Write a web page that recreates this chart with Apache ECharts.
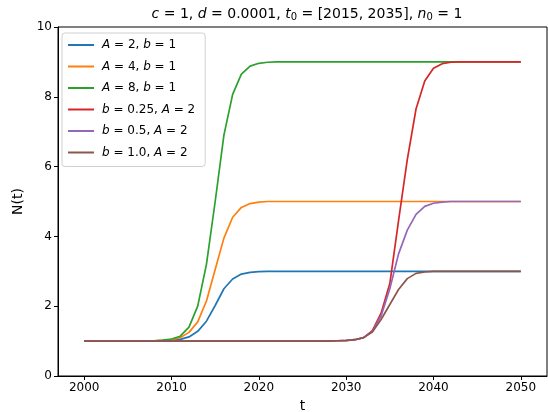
<!DOCTYPE html>
<html>
<head>
<meta charset="utf-8">
<script src="https://cdn.jsdelivr.net/npm/echarts@6/dist/echarts.min.js"></script>
<style>
  html, body { margin: 0; padding: 0; background: #fff; }
  #chart { width: 548px; height: 412px; }
</style>
</head>
<body>
<div id="chart"></div>
<script>
const years = [
  2000, 2001, 2002, 2003, 2004, 2005, 2006, 2007, 2008, 2009,
  2010, 2011, 2012, 2013, 2014, 2015, 2016, 2017, 2018, 2019,
  2020, 2021, 2022, 2023, 2024, 2025, 2026, 2027, 2028, 2029,
  2030, 2031, 2032, 2033, 2034, 2035, 2036, 2037, 2038, 2039,
  2040, 2041, 2042, 2043, 2044, 2045, 2046, 2047, 2048, 2049,
  2050,
]

const a2b1 = [
  1, 1, 1, 1, 1, 1, 1, 1, 1, 1,
  1.02, 1.05, 1.12, 1.28, 1.57, 2.02, 2.5, 2.78, 2.92, 2.97,
  2.99, 3, 3, 3, 3, 3, 3, 3, 3, 3,
  3, 3, 3, 3, 3, 3, 3, 3, 3, 3,
  3, 3, 3, 3, 3, 3, 3, 3, 3, 3,
  3,
]
const a4b1 = [
  1, 1, 1, 1, 1, 1, 1, 1, 1.01, 1.02,
  1.04, 1.1, 1.25, 1.55, 2.15, 3.05, 3.95, 4.55, 4.83, 4.94,
  4.98, 5, 5, 5, 5, 5, 5, 5, 5, 5,
  5, 5, 5, 5, 5, 5, 5, 5, 5, 5,
  5, 5, 5, 5, 5, 5, 5, 5, 5, 5,
  5,
]
const a8b1 = [
  1, 1, 1, 1, 1, 1, 1, 1, 1.01, 1.03,
  1.06, 1.14, 1.4, 2.0, 3.2, 5.0, 6.9, 8.07, 8.65, 8.88,
  8.96, 8.99, 9, 9, 9, 9, 9, 9, 9, 9,
  9, 9, 9, 9, 9, 9, 9, 9, 9, 9,
  9, 9, 9, 9, 9, 9, 9, 9, 9, 9,
  9,
]
const b025a2 = [
  1, 1, 1, 1, 1, 1, 1, 1, 1, 1,
  1, 1, 1, 1, 1, 1, 1, 1, 1, 1,
  1, 1, 1, 1, 1, 1, 1, 1, 1.01, 1.01,
  1.02, 1.04, 1.1, 1.3, 1.8, 2.65, 4.45, 6.2, 7.65, 8.45,
  8.82, 8.95, 8.99, 9, 9, 9, 9, 9, 9, 9,
  9,
]
const b05a2 = [
  1, 1, 1, 1, 1, 1, 1, 1, 1, 1,
  1, 1, 1, 1, 1, 1, 1, 1, 1, 1,
  1, 1, 1, 1, 1, 1, 1, 1, 1, 1.01,
  1.02, 1.04, 1.1, 1.28, 1.72, 2.5, 3.5, 4.18, 4.63, 4.86,
  4.95, 4.98, 5, 5, 5, 5, 5, 5, 5, 5,
  5,
]
const b10a2 = [
  1, 1, 1, 1, 1, 1, 1, 1, 1, 1,
  1, 1, 1, 1, 1, 1, 1, 1, 1, 1,
  1, 1, 1, 1, 1, 1, 1, 1, 1, 1.01,
  1.01, 1.04, 1.1, 1.26, 1.62, 2.05, 2.48, 2.79, 2.94, 2.98,
  3, 3, 3, 3, 3, 3, 3, 3, 3, 3,
  3,
]

const xTicks = [2000, 2010, 2020, 2030, 2040, 2050]

const seriesDefs = [
  { name: 'A2b1', label: '{i|A} = 2, {i|b} = 1', values: a2b1, color: '#1f77b4' },
  { name: 'A4b1', label: '{i|A} = 4, {i|b} = 1', values: a4b1, color: '#ff7f0e' },
  { name: 'A8b1', label: '{i|A} = 8, {i|b} = 1', values: a8b1, color: '#2ca02c' },
  { name: 'b025A2', label: '{i|b} = 0.25, {i|A} = 2', values: b025a2, color: '#d62728' },
  { name: 'b05A2', label: '{i|b} = 0.5, {i|A} = 2', values: b05a2, color: '#9467bd' },
  { name: 'b10A2', label: '{i|b} = 1.0, {i|A} = 2', values: b10a2, color: '#8c564b' },
]

const font = 'DejaVu Sans'
const labelByName = Object.fromEntries(seriesDefs.map((s) => [s.name, s.label]))

const chart = echarts.init(document.getElementById('chart'))
chart.setOption({
  animation: false,
  backgroundColor: '#fff',
  title: {
    text: '{i|c} = 1, {i|d} = 0.0001, {i|t}{s|0} = [2015, 2035], {i|n}{s|0} = 1',
    left: 302,
    textAlign: 'center',
    top: 1,
    textStyle: {
      fontFamily: font,
      fontSize: 14,
      fontWeight: 'normal',
      color: '#000',
      rich: {
        i: { fontFamily: font, fontSize: 14, fontStyle: 'italic', color: '#000' },
        s: { fontFamily: font, fontSize: 10, color: '#000', verticalAlign: 'bottom', padding: [6, 0, 0, 0] },
      },
    },
  },
  legend: {
    orient: 'vertical',
    left: 62,
    top: 33,
    padding: [5, 10, 7, 6],
    itemGap: 7.5,
    itemWidth: 26,
    itemHeight: 2,
    icon: 'rect',
    backgroundColor: '#fff',
    borderColor: '#d0d0d0',
    borderWidth: 1,
    borderRadius: 3,
    data: seriesDefs.map((s) => s.name),
    formatter: (name) => labelByName[name],
    textStyle: {
      fontFamily: font,
      fontSize: 12,
      color: '#000',
      lineHeight: 14,
      padding: [0, 0, 0, 3],
      rich: {
        i: { fontFamily: font, fontSize: 12, fontStyle: 'italic', color: '#000', lineHeight: 14 },
      },
    },
  },
  grid: {
    left: 58,
    top: 27,
    width: 489,
    height: 349,
    outerBoundsMode: 'none',
    containLabel: false,
    show: true,
    borderColor: '#000',
    borderWidth: 1,
  },
  xAxis: {
    type: 'value',
    min: 1997,
    max: 2053,
    name: 't',
    nameLocation: 'middle',
    nameGap: 23,
    nameTextStyle: { fontFamily: font, fontSize: 14, color: '#000' },
    axisLine: { show: true, lineStyle: { color: '#000', width: 1 } },
    axisTick: { show: true, length: 4, customValues: xTicks, lineStyle: { color: '#000' } },
    axisLabel: {
      customValues: xTicks,
      formatter: (v) => String(v),
      fontFamily: font,
      fontSize: 12,
      color: '#000',
      margin: 6,
    },
    splitLine: { show: false },
  },
  yAxis: {
    type: 'value',
    min: 0,
    max: 10,
    interval: 2,
    name: 'N(t)',
    nameLocation: 'middle',
    nameRotate: 90,
    nameGap: 31,
    nameTextStyle: { fontFamily: font, fontSize: 14, color: '#000' },
    axisLine: { show: true, lineStyle: { color: '#000', width: 1 } },
    axisTick: { show: true, length: 4, lineStyle: { color: '#000' } },
    axisLabel: { fontFamily: font, fontSize: 12, color: '#000', margin: 6 },
    splitLine: { show: false },
  },
  series: seriesDefs.map((s) => ({
    name: s.name,
    type: 'line',
    showSymbol: false,
    data: years.map((y, i) => [y, s.values[i]]),
    itemStyle: { color: s.color },
    lineStyle: { color: s.color, width: 1.7 },
  })),
})
</script>
</body>
</html>
